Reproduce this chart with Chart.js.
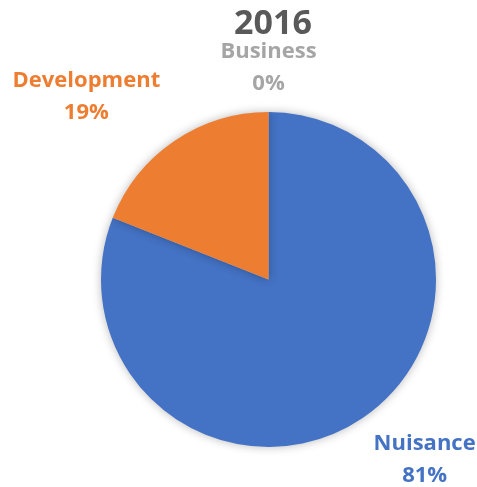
<html>
<head>
<script src="https://cdn.jsdelivr.net/npm/chart.js@4.4.1/dist/chart.umd.min.js"></script>
<style>
  body { margin: 0; background: #fff; }
  #wrap { width: 477px; height: 487px; }
</style>
</head>
<body>
<div id="wrap"><canvas id="chart" width="477" height="487"></canvas></div>
<script>
var title = '2016';
var categories = ['Nuisance', 'Development', 'Business'];
var values = [81, 19, 0];
var pctLabels = ['81%', '19%', '0%'];
var colors = ['#4472C4', '#ED7D31', '#A5A5A5'];
var labelColors = ['#4472C4', '#ED7D31', '#A5A5A5'];
// where each label sits relative to the slice's outer mid point
var labelOffsets = [[62, 41], [-88, -45], [0, -45]];

var FONT = "'Open Sans', sans-serif";

var shadow = {
  id: 'shadow',
  beforeDatasetsDraw: function(c) {
    c.ctx.save();
    c.ctx.shadowColor = 'rgba(0,0,0,0.28)';
    c.ctx.shadowBlur = 10;
  },
  afterDatasetsDraw: function(c) {
    c.ctx.restore();
  }
};

var labels = {
  id: 'labels',
  afterDraw: function(c) {
    var ctx = c.ctx;
    ctx.save();
    ctx.textAlign = 'center';
    ctx.textBaseline = 'middle';
    ctx.fillStyle = '#595959';
    ctx.font = "bold 34px " + FONT;
    ctx.fillText(title, 273, 24);
    var meta = c.getDatasetMeta(0);
    meta.data.forEach(function(arc, i) {
      var mid = (arc.startAngle + arc.endAngle) / 2;
      var x = arc.x + Math.cos(mid) * arc.outerRadius + labelOffsets[i][0];
      var y = arc.y + Math.sin(mid) * arc.outerRadius + labelOffsets[i][1];
      ctx.fillStyle = labelColors[i];
      ctx.font = "bold 22px " + FONT;
      ctx.fillText(categories[i], x, y - 15);
      ctx.fillText(pctLabels[i], x, y + 17);
    });
    ctx.restore();
  }
};

new Chart(document.getElementById('chart'), {
  type: 'pie',
  data: {
    labels: categories,
    datasets: [{
      data: values,
      backgroundColor: colors,
      borderWidth: 0
    }]
  },
  options: {
    responsive: false,
    animation: false,
    layout: { padding: { left: 101, right: 41, top: 112, bottom: 40 } },
    plugins: {
      legend: { display: false },
      tooltip: { enabled: false }
    }
  },
  plugins: [shadow, labels]
});
</script>
</body>
</html>
